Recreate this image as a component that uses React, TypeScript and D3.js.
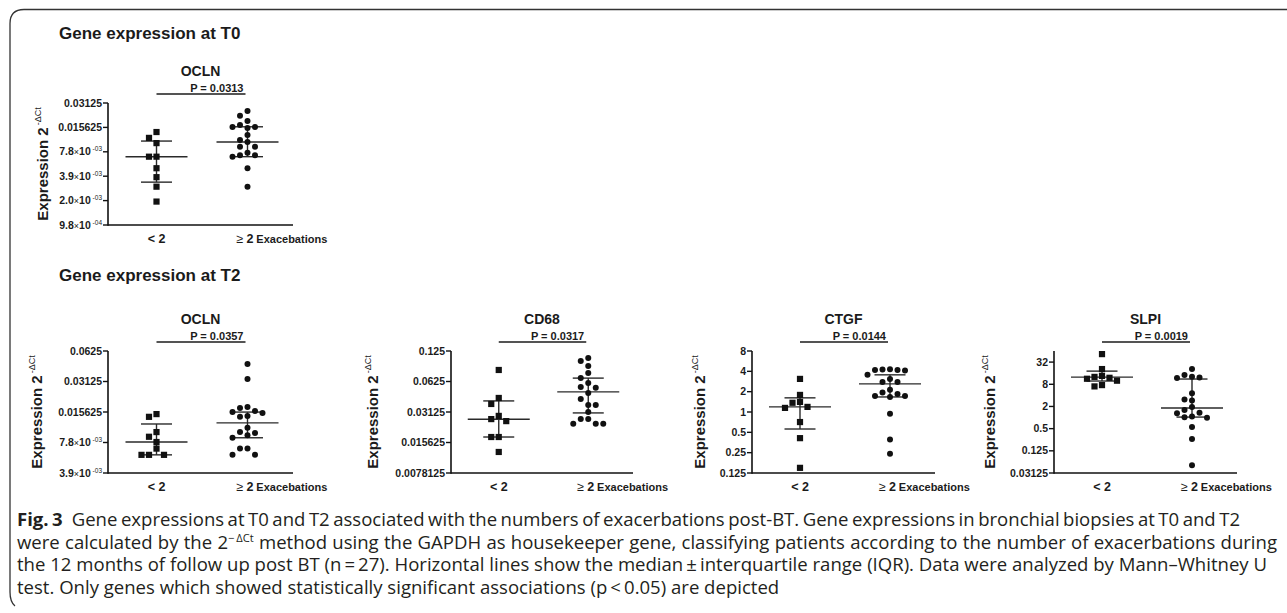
import React, { useLayoutEffect, useRef } from 'react';
import * as d3 from 'd3';

// ---- data ----
const GROUPS = ['< 2', '≥ 2'];
const P_VALUES = ['P = 0.0313', 'P = 0.0357', 'P = 0.0317', 'P = 0.0144', 'P = 0.0019'];
const GENES = ['OCLN', 'OCLN', 'CD68', 'CTGF', 'SLPI'];

// T0 OCLN
const t0OclnLow = [0.0137, 0.0116, 0.01, 0.0068, 0.0068, 0.0049, 0.0038, 0.0029, 0.0019];
const t0OclnHigh = [0.0249, 0.0217, 0.0188, 0.0167, 0.0158, 0.0158, 0.0154, 0.0126, 0.0109, 0.0103, 0.009, 0.009, 0.0076, 0.0071, 0.0071, 0.0068, 0.0049, 0.0029];
const t0OclnLowIqr = [0.0033, 0.0068, 0.0106]; // q1, median, q3
const t0OclnHighIqr = [0.0068, 0.0103, 0.0159];
const t0OclnTicks = [0.0009765625, 0.001953125, 0.00390625, 0.0078125, 0.015625, 0.03125];
const t0OclnTickLabels = ['9.8×10^-04', '2.0×10^-03', '3.9×10^-03', '7.8×10^-03', '0.015625', '0.03125'];

// T2 OCLN
const t2OclnLow = [0.0149, 0.014, 0.0099, 0.0089, 0.0079, 0.0068, 0.0059, 0.0059, 0.0059];
const t2OclnHigh = [0.0465, 0.0331, 0.0175, 0.0171, 0.016, 0.0156, 0.0153, 0.0143, 0.014, 0.0109, 0.0099, 0.0097, 0.0092, 0.0087, 0.0068, 0.0068, 0.0059, 0.0059];
const t2OclnLowIqr = [0.0059, 0.0079, 0.0119];
const t2OclnHighIqr = [0.0087, 0.0122, 0.0156];
const t2OclnTicks = [0.00390625, 0.0078125, 0.015625, 0.03125, 0.0625];
const t2OclnTickLabels = ['3.9×10^-03', '7.8×10^-03', '0.015625', '0.03125', '0.0625'];

// T2 CD68
const cd68Low = [0.0812, 0.043, 0.0375, 0.0286, 0.0266, 0.0254, 0.0177, 0.0177, 0.0126];
const cd68High = [0.1065, 0.0995, 0.0889, 0.0759, 0.0675, 0.0603, 0.0552, 0.0541, 0.048, 0.0421, 0.0367, 0.0367, 0.0313, 0.0266, 0.0266, 0.0239, 0.0239, 0.0239];
const cd68LowIqr = [0.0177, 0.0265, 0.0402];
const cd68HighIqr = [0.0306, 0.0494, 0.0675];
const cd68Ticks = [0.0078125, 0.015625, 0.03125, 0.0625, 0.125];
const cd68TickLabels = ['0.0078125', '0.015625', '0.03125', '0.0625', '0.125'];

// T2 CTGF
const ctgfLow = [3.09, 1.79, 1.41, 1.37, 1.19, 1.15, 0.71, 0.41, 0.149];
const ctgfHigh = [4.3, 4.25, 4.2, 4.2, 4.1, 3.55, 3.09, 2.79, 2.79, 2.13, 1.95, 1.85, 1.73, 1.73, 1.67, 0.94, 0.39, 0.24];
const ctgfLowIqr = [0.56, 1.19, 1.62];
const ctgfHighIqr = [1.67, 2.61, 3.55];
const ctgfTicks = [0.125, 0.25, 0.5, 1, 2, 4, 8];
const ctgfTickLabels = ['0.125', '0.25', '0.5', '1', '2', '4', '8'];

// T2 SLPI
const slpiLow = [52.7, 20.7, 13.5, 12.7, 12.0, 11.3, 10.0, 7.6, 7.0];
const slpiHigh = [20.7, 14.2, 12.8, 12.3, 11.8, 4.6, 3.1, 2.9, 1.93, 1.6, 1.36, 1.3, 1.06, 1.02, 0.98, 0.55, 0.26, 0.051];
const slpiLowIqr = [9.8, 12.5, 18.2];
const slpiHighIqr = [1.03, 1.81, 11.1];
const slpiTicks = [0.03125, 0.125, 0.5, 2, 8, 32];
const slpiTickLabels = ['0.03125', '0.125', '0.5', '2', '8', '32'];

// ---- layout ----
const FONT = '"Liberation Sans", Arial, Helvetica, sans-serif';
const INK = '#1b1b1b';

const panels = [
  { gene: GENES[0], p: P_VALUES[0], low: t0OclnLow, high: t0OclnHigh, lowIqr: t0OclnLowIqr, highIqr: t0OclnHighIqr,
    ticks: t0OclnTicks, tickLabels: t0OclnTickLabels, top: 0.03125, x0: 108, x1: 293, y0: 225, y1: 103, labelDx: 60 },
  { gene: GENES[1], p: P_VALUES[1], low: t2OclnLow, high: t2OclnHigh, lowIqr: t2OclnLowIqr, highIqr: t2OclnHighIqr,
    ticks: t2OclnTicks, tickLabels: t2OclnTickLabels, top: 0.0625, x0: 108, x1: 293, y0: 473, y1: 351, labelDx: 66 },
  { gene: GENES[2], p: P_VALUES[2], low: cd68Low, high: cd68High, lowIqr: cd68LowIqr, highIqr: cd68HighIqr,
    ticks: cd68Ticks, tickLabels: cd68TickLabels, top: 0.125, x0: 451, x1: 633, y0: 473, y1: 351, labelDx: 73 },
  { gene: GENES[3], p: P_VALUES[3], low: ctgfLow, high: ctgfHigh, lowIqr: ctgfLowIqr, highIqr: ctgfHighIqr,
    ticks: ctgfTicks, tickLabels: ctgfTickLabels, top: 8, x0: 752, x1: 935, y0: 473, y1: 351, labelDx: 47 },
  { gene: GENES[4], p: P_VALUES[4], low: slpiLow, high: slpiHigh, lowIqr: slpiLowIqr, highIqr: slpiHighIqr,
    ticks: slpiTicks, tickLabels: slpiTickLabels, top: 64, x0: 1054, x1: 1237, y0: 473, y1: 351, labelDx: 59 },
];

// greedy beeswarm: keep value on y, nudge sideways when dots would overlap
function swarm(values: number[], y: (v: number) => number, cx: number, gap = 7.5) {
  const placed: { x: number; y: number }[] = [];
  const out: { x: number; y: number }[] = new Array(values.length);
  const order = values.map((v, i) => ({ v, i })).sort((a, b) => b.v - a.v);
  for (const { v, i } of order) {
    const py = y(v);
    for (let k = 0; k < 20; k++) {
      const off = k === 0 ? 0 : (k % 2 ? -1 : 1) * Math.ceil(k / 2) * gap;
      const px = cx + off;
      if (!placed.some(p => Math.abs(p.x - px) < 1 && Math.abs(p.y - py) < 6.5)) {
        placed.push({ x: px, y: py });
        out[i] = { x: px, y: py };
        break;
      }
    }
  }
  return out;
}

const TickLabel = ({ x, y, label }: { x: number; y: number; label: string }) => {
  const m = label.match(/^(.*)×10\^(.*)$/);
  if (!m) {
    return <text x={x} y={y} dy="0.35em" textAnchor="end" fontSize={10.5} fontWeight="bold">{label}</text>;
  }
  return (
    <text x={x} y={y} dy="0.35em" textAnchor="end" fontSize={10.5} fontWeight="bold">
      {m[1]}<tspan fontWeight="normal" fontSize={9}>×</tspan>10
      <tspan fontSize={6.5} fontWeight="normal" dy={-4}>{' ' + m[2]}</tspan>
    </text>
  );
};

const Panel = ({ cfg }: { cfg: typeof panels[number] }) => {
  const y = d3.scaleLog().base(2).domain([cfg.ticks[0], cfg.top]).range([cfg.y0, cfg.y1]);
  const x = d3.scalePoint<string>().domain(GROUPS).range([cfg.x0 + 3, cfg.x1]).padding(0.5);
  const cx1 = x(GROUPS[0])!;
  const cx2 = x(GROUPS[1])!;
  const lowPts = swarm(cfg.low, y, cx1);
  const highPts = swarm(cfg.high, y, cx2);
  const yTopAxis = y(cfg.top);
  const midX = (cfg.x0 + cfg.x1) / 2;
  const lineY = cfg.y1 - 9;

  const iqr = (stats: number[], cx: number, key: string) => (
    <g key={key} stroke="#2a2a2a" strokeWidth={1.4}>
      <line x1={cx} x2={cx} y1={y(stats[0])} y2={y(stats[2])} />
      <line x1={cx - 31} x2={cx + 31} y1={y(stats[1])} y2={y(stats[1])} />
      <line x1={cx - 15.5} x2={cx + 15.5} y1={y(stats[0])} y2={y(stats[0])} />
      <line x1={cx - 15.5} x2={cx + 15.5} y1={y(stats[2])} y2={y(stats[2])} />
    </g>
  );

  return (
    <g fontFamily={FONT} fill={INK}>
      <text x={midX} y={cfg.y1 - 27} textAnchor="middle" fontSize={14} fontWeight="bold">{cfg.gene}</text>
      <line x1={cx1} x2={cx2 - 2} y1={lineY} y2={lineY} stroke={INK} strokeWidth={1.4} />
      <text x={cx2 - 4} y={lineY - 2} textAnchor="end" fontSize={11} fontWeight="bold">{cfg.p}</text>

      {/* axes */}
      <line x1={cfg.x0} x2={cfg.x0} y1={yTopAxis} y2={cfg.y0 + 0.7} stroke="#111" strokeWidth={1.6} />
      <line x1={cfg.x0} x2={cfg.x1} y1={cfg.y0} y2={cfg.y0} stroke="#111" strokeWidth={1.6} />
      {cfg.ticks.map((t, i) => (
        <g key={t}>
          <line x1={cfg.x0 - 5} x2={cfg.x0} y1={y(t)} y2={y(t)} stroke="#111" strokeWidth={1.4} />
          <TickLabel x={cfg.x0 - 6} y={y(t)} label={cfg.tickLabels[i]} />
        </g>
      ))}
      <text x={cx1} y={cfg.y0 + 18} textAnchor="middle" fontSize={12.5} fontWeight="bold">{GROUPS[0]}</text>
      <text x={cx2 - 11} y={cfg.y0 + 18} fontSize={12.5}>
        ≥<tspan fontWeight="bold" dx={3}>2</tspan>
        <tspan fontWeight="bold" fontSize={11} dx={3}>Exacebations</tspan>
      </text>

      {/* y label */}
      <text transform={`translate(${cfg.x0 - cfg.labelDx},${(cfg.y0 + cfg.y1) / 2}) rotate(-90)`} textAnchor="middle">
        <tspan fontSize={15} fontWeight="bold">Expression 2</tspan>
        <tspan fontSize={9} dy={-7} dx={2}>-ΔCt</tspan>
      </text>

      {iqr(cfg.lowIqr, cx1, 'l')}
      {iqr(cfg.highIqr, cx2, 'h')}
      {lowPts.map((p, i) => <rect key={'s' + i} x={p.x - 3.1} y={p.y - 3.1} width={6.2} height={6.2} fill="#111" />)}
      {highPts.map((p, i) => <circle key={'c' + i} cx={p.x} cy={p.y} r={3} fill="#111" />)}
    </g>
  );
};

const CAPTION_FONT = '"Open Sans", "Noto Sans", sans-serif';
const CAPTION_X = 17;
const captionEnds = [1240, 1277, 1267, 0]; // 0: leave ragged line as it falls
const captionY = [526, 548.5, 571, 593.5];

// the font size is chosen so the longest line fills its width; the others get a little word spacing
const Caption = () => {
  const refs = useRef<(SVGTextElement | null)[]>([]);
  useLayoutEffect(() => {
    const els = refs.current;
    if (els.some(e => !e)) return;
    const base = 18;
    els.forEach(el => { el!.style.fontSize = `${base}px`; el!.style.wordSpacing = '0px'; });
    const fs = base * (captionEnds[1] - CAPTION_X - 8) / els[1]!.getComputedTextLength();
    els.forEach((el, i) => {
      el!.style.fontSize = `${fs}px`;
      if (!captionEnds[i]) return;
      const extra = i === 0 ? 9 : 0;
      const natural = el!.getComputedTextLength() + extra;
      const spaces = (el!.textContent || '').split(' ').length - 1;
      el!.style.wordSpacing = `${(captionEnds[i] - CAPTION_X - natural) / spaces}px`;
    });
  }, []);
  const props = (i: number) => ({
    ref: (e: SVGTextElement | null) => { refs.current[i] = e; },
    x: CAPTION_X, y: captionY[i], fontFamily: CAPTION_FONT, fontSize: 18, fill: '#231f20',
  });
  return (
    <g>
      <text {...props(0)}>
        <tspan fontWeight="bold">Fig. 3</tspan>
        <tspan dx={9}>Gene expressions at T0 and T2 associated with the numbers of exacerbations post-BT. Gene expressions in bronchial biopsies at T0 and T2</tspan>
      </text>
      <text {...props(1)}>
        were calculated by the 2<tspan fontSize="0.6em" dy={-6.5}>−{'\u2009'}ΔCt</tspan>
        <tspan dy={6.5}> method using the GAPDH as housekeeper gene, classifying patients according to the number of exacerbations during</tspan>
      </text>
      <text {...props(2)}>
        the 12 months of follow up post BT (n{'\u2009'}={'\u2009'}27). Horizontal lines show the median{'\u2009'}±{'\u2009'}interquartile range (IQR). Data were analyzed by Mann–Whitney U
      </text>
      <text {...props(3)}>
        test. Only genes which showed statistically significant associations (p{'\u2009'}&lt;{'\u2009'}0.05) are depicted
      </text>
    </g>
  );
};

export default function App() {
  return (
    <div style={{ position: 'absolute', left: 0, top: 0 }}>
      <svg width={1287} height={613} style={{ display: 'block', background: '#fff' }}>
        <path d="M1287,9.5 H24 Q10,9.5 10,23.5 V592 Q10,602 15,606" fill="none" stroke="#333" strokeWidth={1.3} />

        <text x={59} y={39} fontFamily={FONT} fontSize={17} fontWeight="bold" fill={INK}>Gene expression at T0</text>
        <text x={59} y={281} fontFamily={FONT} fontSize={17} fontWeight="bold" fill={INK}>Gene expression at T2</text>

        {panels.map((p, i) => <Panel key={i} cfg={p} />)}

        <Caption />
      </svg>
    </div>
  );
}
